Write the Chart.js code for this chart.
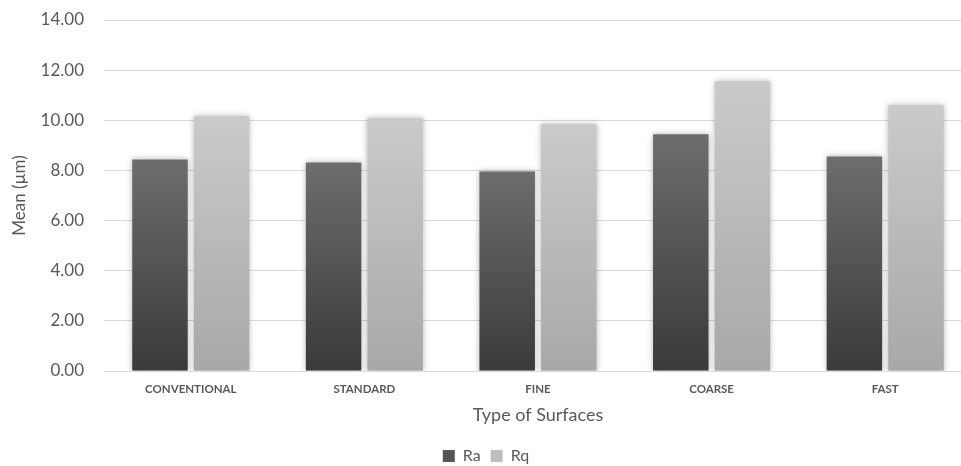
<!DOCTYPE html>
<html>
<head>
<meta charset="utf-8">
<script src="https://cdn.jsdelivr.net/npm/chart.js@4"></script>
<style>
  body { margin: 0; background: #ffffff; overflow: hidden; }
  #wrap { width: 961px; height: 466px; overflow: hidden; }
</style>
</head>
<body>
<div id="wrap"><canvas id="surfaceChart" width="975" height="466"></canvas></div>
<script>
// Data
const surfaces = ["CONVENTIONAL", "STANDARD", "FINE", "COARSE", "FAST"];
const raValues = [8.44, 8.32, 7.96, 9.44, 8.56];
const rqValues = [10.16, 10.08, 9.84, 11.56, 10.60];
const yTicks = [0, 2, 4, 6, 8, 10, 12, 14];

const textGrey = "#595959";
const fontName = "Lato, 'Open Sans', sans-serif";

// gradient going from the top of each bar down to zero
function barGradient(topColor, bottomColor) {
  return (context) => {
    const chart = context.chart;
    if (!chart.chartArea || context.parsed === undefined) return topColor;
    const yScale = chart.scales.y;
    const top = yScale.getPixelForValue(context.parsed.y);
    const bottom = yScale.getPixelForValue(0);
    const grad = chart.ctx.createLinearGradient(0, top, 0, bottom);
    grad.addColorStop(0, topColor);
    grad.addColorStop(1, bottomColor);
    return grad;
  };
}

// soft shadow round the bars
const barShadow = {
  id: "barShadow",
  beforeDatasetsDraw(chart) {
    const ctx = chart.ctx;
    ctx.save();
    ctx.shadowColor = "rgba(0, 0, 0, 0.28)";
    ctx.shadowBlur = 6;
    ctx.shadowOffsetX = 0;
    ctx.shadowOffsetY = 0;
  },
  afterDatasetsDraw(chart) {
    chart.ctx.restore();
  },
};

const ctx = document.getElementById("surfaceChart").getContext("2d");

const surfaceChart = new Chart(ctx, {
  type: "bar",
  data: {
    labels: surfaces,
    datasets: [
      {
        label: "Ra",
        data: raValues,
        backgroundColor: barGradient("#6d6d6d", "#3a3a3a"),
        borderWidth: 0,
        categoryPercentage: 0.71,
        barPercentage: 0.9,
      },
      {
        label: "Rq",
        data: rqValues,
        backgroundColor: barGradient("#cacaca", "#a8a8a8"),
        borderWidth: 0,
        categoryPercentage: 0.71,
        barPercentage: 0.9,
      },
    ],
  },
  options: {
    responsive: false,
    devicePixelRatio: 1,
    animation: false,
    layout: {
      padding: { top: 20, right: 3, left: 0, bottom: -8 },
    },
    plugins: {
      tooltip: { enabled: false },
      legend: {
        position: "bottom",
        labels: {
          color: textGrey,
          font: { family: fontName, size: 16 },
          boxWidth: 12,
          boxHeight: 12,
          padding: 10,
          generateLabels: () => [
            { text: "Ra", fillStyle: "#555555", strokeStyle: "#555555", lineWidth: 0, fontColor: textGrey, datasetIndex: 0 },
            { text: "Rq", fillStyle: "#bdbdbd", strokeStyle: "#bdbdbd", lineWidth: 0, fontColor: textGrey, datasetIndex: 1 },
          ],
        },
      },
    },
    scales: {
      x: {
        grid: { display: false },
        border: { display: true, color: "#d9d9d9", width: 1 },
        ticks: {
          color: textGrey,
          font: { family: fontName, size: 11.5, weight: "bold" },
          maxRotation: 0,
          padding: 3,
        },
        title: {
          display: true,
          text: "Type of Surfaces",
          color: textGrey,
          font: { family: fontName, size: 18 },
          padding: { top: 4, bottom: 12 },
        },
        afterFit: (scale) => {
          scale.height = 67;
        },
      },
      y: {
        min: 0,
        max: 14,
        afterBuildTicks: (scale) => {
          scale.ticks = yTicks.map((v) => ({ value: v }));
        },
        grid: { color: "#d9d9d9", drawTicks: false },
        border: { display: false },
        ticks: {
          color: textGrey,
          font: { family: fontName, size: 17 },
          padding: 20,
          callback: (value) => Number(value).toFixed(2),
        },
        title: {
          display: true,
          text: "Mean (µm)",
          color: textGrey,
          font: { family: fontName, size: 17 },
          padding: { top: 9, bottom: 4 },
        },
        afterFit: (scale) => {
          scale.width = 104;
          scale.paddingTop = 0;
          scale.paddingBottom = 0;
        },
      },
    },
  },
  plugins: [barShadow],
});
</script>
</body>
</html>
